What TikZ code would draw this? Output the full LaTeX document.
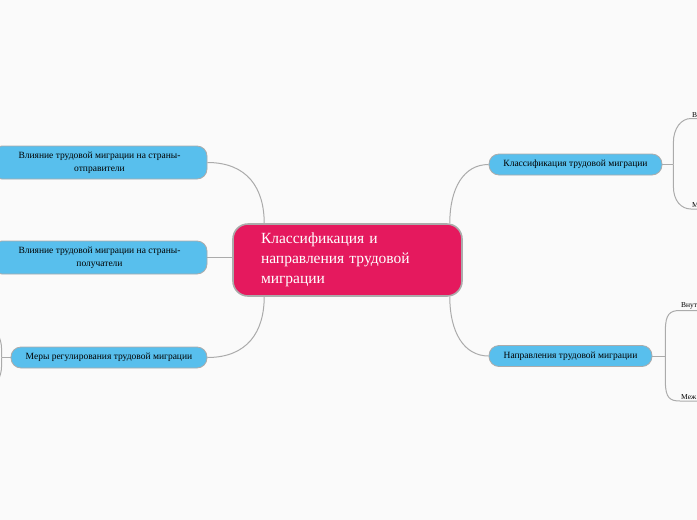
\documentclass[tikz,border=0pt]{standalone}
\usepackage{fontspec}
\setmainfont{Liberation Serif}
\usetikzlibrary{calc}
\definecolor{mapPink}{HTML}{E5195E}
\definecolor{mapBlue}{HTML}{58BFED}
\definecolor{mapLine}{HTML}{ABABAB}
\definecolor{mapBack}{HTML}{FAFAFA}
\tikzset{
    central/.style={rectangle, rounded corners=15pt, draw=mapLine, line width=1.6pt, fill=mapPink, text=white, align=left, text width=173pt, inner xsep=28pt, minimum height=72pt, font=\fontsize{15.5}{20}\selectfont},
    topic/.style={rectangle, rounded corners=10pt, draw=mapLine, line width=0.8pt, fill=mapBlue, align=center, inner xsep=0pt, minimum height=21pt, font=\fontsize{9.5}{13}\selectfont},
    leaf/.style={anchor=south west, inner sep=1pt, font=\fontsize{7.5}{9}\selectfont},
    link/.style={draw=mapLine, line width=1pt}
}
\begin{document}
\begin{tikzpicture}[x=1pt, y=-1pt]
    \useasboundingbox (0,0) rectangle (697,520);
    \fill[mapBack] (0,0) rectangle (697,520);
    \clip (0,0) rectangle (697,520);

    \node[central] (root) at (347.5,260) {Классификация и\\направления трудовой\\миграции};

    \node[topic, minimum width=215pt, minimum height=33pt] (send) at (99.5,162.5) {Влияние трудовой миграции на страны-\\отправители};
    \node[topic, minimum width=215pt, minimum height=33pt] (recv) at (99.5,257.5) {Влияние трудовой миграции на страны-\\получатели};
    \node[topic, minimum width=196pt] (meas) at (109,357.5) {Меры регулирования трудовой миграции};
    \node[topic, minimum width=173pt] (klass) at (575.5,164.5) {Классификация трудовой миграции};
    \node[topic, minimum width=163pt] (napr) at (570.5,356) {Направления трудовой миграции};

    \node[leaf] (klassA) at (691,118.5) {В};
    \node[leaf] (klassB) at (691,209) {М};
    \node[leaf] (naprA) at (680,310.5) {Внут};
    \node[leaf] (naprB) at (680,401) {Меж};

    \coordinate (klassJ) at ($(klass.east)+(11,0)$);
    \coordinate (naprJ) at ($(napr.east)+(13,0)$);
    \coordinate (measJ) at ($(meas.west)+(-9,0)$);
    \coordinate (measA) at ($(measJ)+(-14,-30)$);
    \coordinate (measB) at ($(measJ)+(-14,30)$);

    \draw[link] ($(root.north west)+(32,0)$) .. controls +(0,-35) and +(40,0) .. (send.east);
    \draw[link] (recv.east) -- (recv.east -| root.west);
    \draw[link] ($(root.south west)+(32,0)$) .. controls +(0,35) and +(40,0) .. (meas.east);
    \draw[link] ($(root.north east)+(-13,0)$) .. controls +(0,-35) and +(-25,0) .. (klass.west);
    \draw[link] ($(root.south east)+(-13,0)$) .. controls +(0,35) and +(-25,0) .. (napr.west);

    \draw[link] (klass.east) -- (klassJ);
    \draw[link] (klassJ) -- ++(0,-22) .. controls +(0,-14) and +(-10,0) .. (klassA.south west) -- ++(20,0);
    \draw[link] (klassJ) -- ++(0,22) .. controls +(0,14) and +(-10,0) .. (klassB.south west) -- ++(20,0);
    \draw[link] (napr.east) -- (naprJ);
    \draw[link] (naprJ) -- ++(0,-26) .. controls +(0,-16) and +(-10,0) .. (naprA.south west) -- ++(30,0);
    \draw[link] (naprJ) -- ++(0,26) .. controls +(0,16) and +(-10,0) .. (naprB.south west) -- ++(30,0);
    \draw[link] (meas.west) -- (measJ);
    \draw[link] (measJ) -- ++(0,-8) .. controls +(0,-12) and +(8,0) .. (measA);
    \draw[link] (measJ) -- ++(0,8) .. controls +(0,12) and +(8,0) .. (measB);
\end{tikzpicture}
\end{document}
